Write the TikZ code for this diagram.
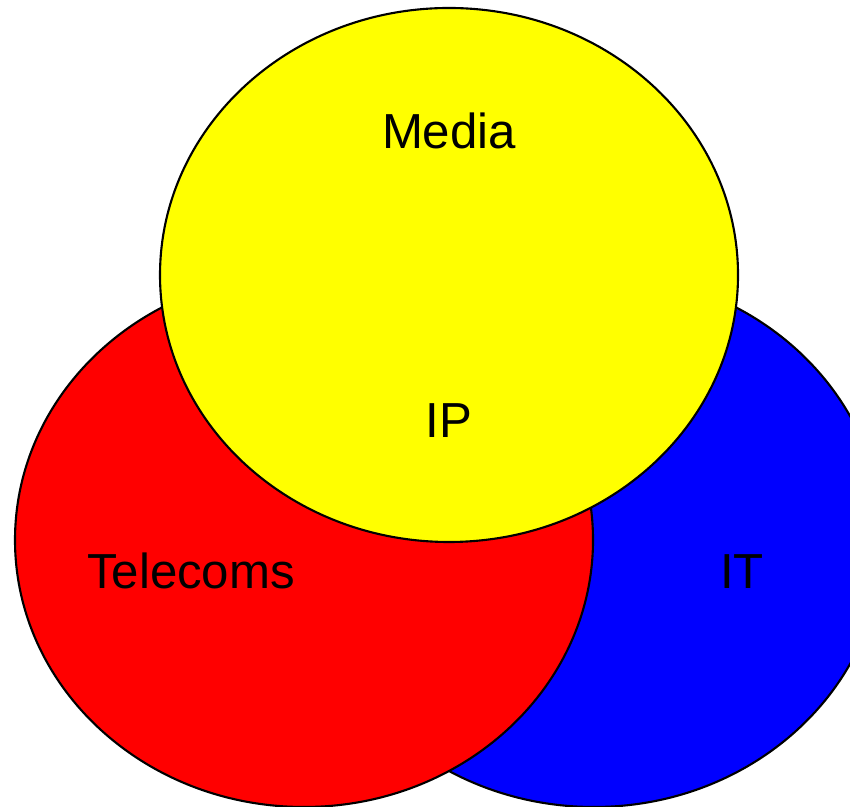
\documentclass[tikz,border=0pt]{standalone}
\usepackage{fontspec}
\setmainfont{Liberation Sans}
\usepackage{xcolor}
\usepackage{tikz}

\definecolor{mediafill}{RGB}{255,255,0}
\definecolor{telefill}{RGB}{255,0,0}
\definecolor{itfill}{RGB}{0,0,255}

\begin{document}
\begin{tikzpicture}[
    font=\fontsize{14}{17}\selectfont,
    area/.style={draw=black, line width=0.6pt},
    label/.style={inner sep=0pt, anchor=base}]
    \useasboundingbox (0,0) rectangle (8.5,8.06);
    \clip (0,0) rectangle (8.5,8.06);
    % back to front: IT, Telecoms, Media
    \draw[area, fill=itfill] (5.94,2.66) ellipse (2.89 and 2.67);
    \draw[area, fill=telefill] (3.04,2.66) ellipse (2.89 and 2.67);
    \draw[area, fill=mediafill] (4.49,5.31) ellipse (2.89 and 2.67);
    \node[label] (media) at (4.49,6.57) {Media};
    \node[label] (ip) at (4.49,3.68) {IP};
    \node[label] (telecoms) at (1.91,2.17) {Telecoms};
    \node[label] (it) at (7.42,2.17) {IT};
  \end{tikzpicture}
\end{document}
